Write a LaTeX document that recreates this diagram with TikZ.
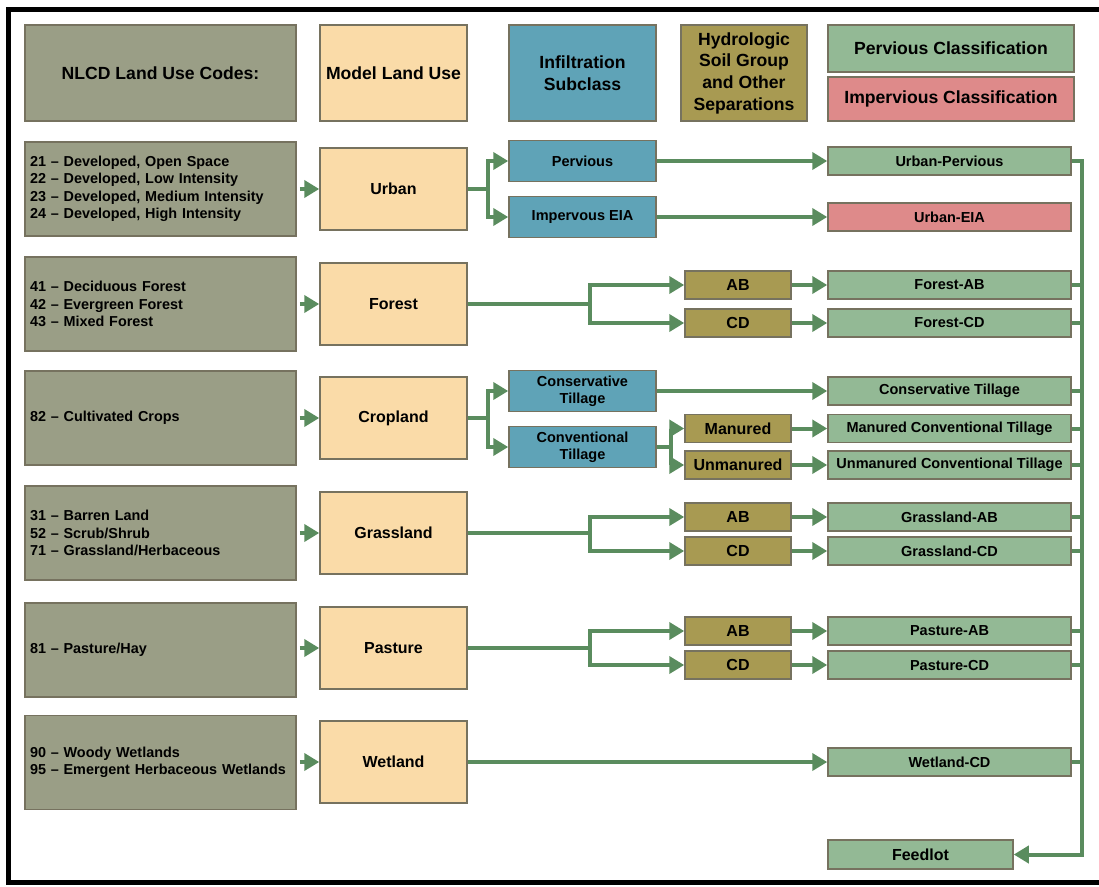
\documentclass[tikz,border=0pt]{standalone}
\usepackage{fontspec}
\setmainfont{Liberation Sans}
\usetikzlibrary{arrows.meta,calc}
\definecolor{cNL}{HTML}{9A9E86}
\definecolor{cML}{HTML}{FADBA8}
\definecolor{cBL}{HTML}{5FA3B7}
\definecolor{cOL}{HTML}{A89A52}
\definecolor{cGR}{HTML}{93B995}
\definecolor{cPK}{HTML}{DE8A8A}
\definecolor{cBD}{HTML}{76725F}
\definecolor{cAR}{HTML}{5A8C5E}
\begin{document}
\begin{tikzpicture}[x=1pt,y=-1pt,
  box/.style={draw=cBD, line width=1.5pt, inner sep=0pt, align=center},
  hdr/.style={box, font=\fontsize{17.6}{21.7}\selectfont\bfseries},
  med/.style={box, font=\fontsize{16}{19}\selectfont\bfseries},
  sml/.style={box, font=\fontsize{14.5}{17}\selectfont\bfseries},
  nlrow/.style={box, fill=cNL, minimum width=271pt, minimum height=94pt, text width=261pt, inner xsep=5pt, align=left, font=\fontsize{14.4}{17.5}\selectfont\bfseries},
  mlrow/.style={med, fill=cML, minimum width=147pt, minimum height=82pt},
  blrow/.style={sml, fill=cBL, minimum width=147pt, minimum height=41pt},
  olrow/.style={med, fill=cOL, minimum width=106pt, minimum height=28pt},
  grrow/.style={sml, fill=cGR, minimum width=243pt, minimum height=28pt},
  link/.style={draw=cAR, line width=4pt},
  arr/.style={link, -{Triangle[length=15pt,width=17pt]}}
]
\useasboundingbox (0,0) rectangle (1099,886);
% frame
\draw[line width=5pt] (8.5,9.5) rectangle (1120,882.5);

% headers
\node[hdr, fill=cNL, minimum width=271pt, minimum height=96pt] (hNL) at (160.5,73) {NLCD Land Use Codes:};
\node[hdr, fill=cML, minimum width=147pt, minimum height=96pt] (hML) at (393.5,73) {Model Land Use};
\node[hdr, fill=cBL, minimum width=147pt, minimum height=96pt] (hIS) at (582.5,73) {Infiltration\\Subclass};
\node[hdr, fill=cOL, minimum width=126pt, minimum height=96pt] (hHS) at (744,73) {Hydrologic\\Soil Group\\and Other\\Separations};
\node[hdr, fill=cGR, minimum width=246pt, minimum height=47pt] (hPC) at (951,48.5) {Pervious Classification};
\node[hdr, fill=cPK, minimum width=246pt, minimum height=44pt] (hIC) at (951,99) {Impervious Classification};

% NLCD rows
\node[nlrow] (n1) at (160.5,189) {21 – Developed, Open Space\\22 – Developed, Low Intensity\\23 – Developed, Medium Intensity\\24 – Developed, High Intensity};
\node[nlrow] (n2) at (160.5,304) {41 – Deciduous Forest\\42 – Evergreen Forest\\43 – Mixed Forest};
\node[nlrow] (n3) at (160.5,418) {82 – Cultivated Crops};
\node[nlrow] (n4) at (160.5,533) {31 – Barren Land\\52 – Scrub/Shrub\\71 – Grassland/Herbaceous};
\node[nlrow] (n5) at (160.5,650) {81 – Pasture/Hay};
\node[nlrow] (n6) at (160.5,762.5) {90 – Woody Wetlands\\95 – Emergent Herbaceous Wetlands};

% model land use
\node[mlrow] (m1) at (393.5,189) {Urban};
\node[mlrow] (m2) at (393.5,304) {Forest};
\node[mlrow] (m3) at (393.5,418) {Cropland};
\node[mlrow] (m4) at (393.5,533) {Grassland};
\node[mlrow] (m5) at (393.5,648) {Pasture};
\node[mlrow] (m6) at (393.5,762) {Wetland};

% infiltration subclass
\node[blrow] (b1) at (582.5,161) {Pervious};
\node[blrow] (b2) at (582.5,217) {Impervous EIA};
\node[blrow] (b3) at (582.5,391) {Conservative\\Tillage};
\node[blrow] (b4) at (582.5,447) {Conventional\\Tillage};

% hydrologic soil group
\node[olrow] (o1) at (738,285) {AB};
\node[olrow] (o2) at (738,323) {CD};
\node[olrow] (o3) at (738,428.5) {Manured};
\node[olrow] (o4) at (738,465) {Unmanured};
\node[olrow] (o5) at (738,517) {AB};
\node[olrow] (o6) at (738,551) {CD};
\node[olrow] (o7) at (738,631) {AB};
\node[olrow] (o8) at (738,665) {CD};

% classification
\node[grrow] (g1) at (949.5,161) {Urban-Pervious};
\node[grrow, fill=cPK] (p1) at (949.5,217) {Urban-EIA};
\node[grrow] (g2) at (949.5,285) {Forest-AB};
\node[grrow] (g3) at (949.5,323) {Forest-CD};
\node[grrow] (g4) at (949.5,391) {Conservative Tillage};
\node[grrow] (g5) at (949.5,428.5) {Manured Conventional Tillage};
\node[grrow] (g6) at (949.5,465) {Unmanured Conventional Tillage};
\node[grrow] (g7) at (949.5,517) {Grassland-AB};
\node[grrow] (g8) at (949.5,551) {Grassland-CD};
\node[grrow] (g9) at (949.5,631) {Pasture-AB};
\node[grrow] (g10) at (949.5,665) {Pasture-CD};
\node[grrow] (g11) at (949.5,762) {Wetland-CD};
\node[med, fill=cGR, minimum width=185pt, minimum height=29pt] (fd) at (920.5,854.5) {Feedlot};

\coordinate (bus) at (1081.5,0);
\coordinate (s1) at (488,0);
\coordinate (s2) at (590,0);
\coordinate (s3) at (671,0);

% NLCD -> model
\foreach \i in {1,...,6} {\draw[arr, shorten <=3pt] (n\i.east |- m\i.east) -- (m\i.west);}

% urban
\draw[link] (m1.east) -- (m1.east -| s1);
\draw[arr] (m1.east -| s1) |- (b1.west);
\draw[arr] (m1.east -| s1) |- (b2.west);
\draw[arr] (b1.east) -- (g1.west);
\draw[arr] (b2.east) -- (p1.west);

% forest
\draw[link] (m2.east) -- (m2.east -| s2);
\draw[arr] (m2.east -| s2) |- (o1.west);
\draw[arr] (m2.east -| s2) |- (o2.west);
\draw[arr] (o1.east) -- (g2.west);
\draw[arr] (o2.east) -- (g3.west);

% cropland
\draw[link] (m3.east) -- (m3.east -| s1);
\draw[arr] (m3.east -| s1) |- (b3.west);
\draw[arr] (m3.east -| s1) |- (b4.west);
\draw[arr] (b3.east) -- (g4.west);
\draw[link] (b4.east) -- (b4.east -| s3);
\draw[arr] (b4.east -| s3) |- (o3.west);
\draw[arr] (b4.east -| s3) |- (o4.west);
\draw[arr] (o3.east) -- (g5.west);
\draw[arr] (o4.east) -- (g6.west);

% grassland
\draw[link] (m4.east) -- (m4.east -| s2);
\draw[arr] (m4.east -| s2) |- (o5.west);
\draw[arr] (m4.east -| s2) |- (o6.west);
\draw[arr] (o5.east) -- (g7.west);
\draw[arr] (o6.east) -- (g8.west);

% pasture
\draw[link] (m5.east) -- (m5.east -| s2);
\draw[arr] (m5.east -| s2) |- (o7.west);
\draw[arr] (m5.east -| s2) |- (o8.west);
\draw[arr] (o7.east) -- (g9.west);
\draw[arr] (o8.east) -- (g10.west);

% wetland
\draw[arr] (m6.east) -- (g11.west);

% bus to feedlot
\draw[arr] (g1.east) -- (g1.east -| bus) |- (fd.east);
\foreach \g in {g2,g3,g4,g5,g6,g7,g8,g9,g10,g11} {\draw[link] (\g.east) -- (\g.east -| bus);}
\end{tikzpicture}
\end{document}
